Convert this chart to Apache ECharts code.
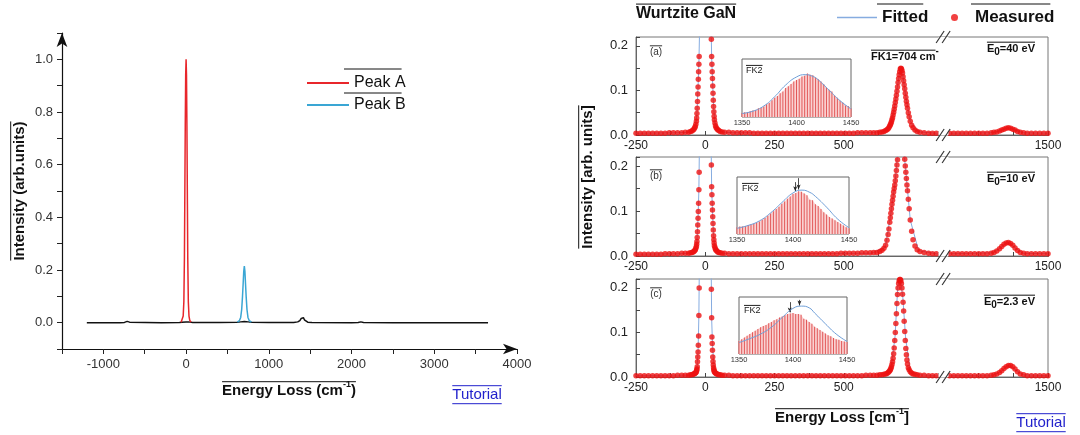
<!DOCTYPE html>
<html>
<head>
<meta charset="utf-8">
<title>Energy loss spectra - Wurtzite GaN</title>
<style>
html, body { margin: 0; padding: 0; background: #fff; }
#main { width: 1080px; height: 435px; }
</style>
<script src="https://cdn.jsdelivr.net/npm/echarts@6/dist/echarts.min.js"></script>
</head>
<body>
<div id="main"></div>
<script>
var FONT = 'Arial, "Liberation Sans", sans-serif';

// ---------- left chart: model spectrum ----------
var lineX = [-1200, -800, -745, -725, -712, -704, -696, -683, -660, -300,
             -80, -50, -30, 0, 30, 50, 80, 400, 620, 660,
             704, 750, 790, 1000, 1300, 1350, 1375, 1392, 1402, 1410,
             1418, 1430, 1445, 1470, 1520, 2000, 2080, 2100, 2112, 2125,
             2145, 2500, 3650];
var lineY = [0, 0, 0.001, 0.003, 0.005, 0.006, 0.005, 0.002, 0.001, 0,
             0.001, 0.002, 0.003, 0.003, 0.003, 0.002, 0.001, 0.001, 0.002, 0.003,
             0.004, 0.003, 0.002, 0.001, 0.001, 0.003, 0.008, 0.016, 0.021, 0.022,
             0.019, 0.011, 0.005, 0.002, 0.001, 0, 0.001, 0.002, 0.003, 0.002,
             0.001, 0, 0];
var peakAX = [-60, -45, -35, -27, -20, -16, -10, -5, 0, 5, 10, 16, 20, 27, 35, 45, 60];
var peakAY = [0.002, 0.008, 0.025, 0.08, 0.25, 0.45, 0.75, 0.94, 1.0, 0.94, 0.75, 0.45, 0.25, 0.08, 0.025, 0.008, 0.002];
var peakBX = [620, 645, 660, 672, 682, 690, 697, 704, 711, 718, 726, 736, 748, 763, 790];
var peakBY = [0.002, 0.008, 0.02, 0.05, 0.1, 0.15, 0.195, 0.215, 0.195, 0.15, 0.1, 0.05, 0.02, 0.008, 0.002];
var leftXTicks = [-1000, 0, 1000, 2000, 3000, 4000];
var leftYTicks = [0, 0.2, 0.4, 0.6, 0.8, 1.0];

// ---------- right chart: measured / fitted, three beam energies ----------
var xMeas = [-250, -235, -220, -205, -190, -175, -160, -145, -130, -115,
             -100, -85, -72,
             -60, -53, -48, -44, -41, -38, -36, -34, -32, -31, -30, -29, -28, -27, -26, -25, -24, -23, -22, -21,
             22, 23, 24, 25, 26, 27, 28, 29, 30, 31, 32, 33, 35, 37, 39, 42, 45, 49, 54, 61,
             70, 85, 100, 115, 130, 145, 160, 175, 190, 205,
             220, 235, 250, 265, 280, 295, 310, 325, 340, 355,
             370, 385, 400, 415, 430, 445, 460, 475, 490, 505,
             520, 535, 550, 565, 580, 595, 608,
             620, 630, 638, 645, 651, 656, 660, 663, 666, 668,
             670, 672, 674, 676, 678, 680, 682, 684, 686, 688,
             690, 692, 694, 696, 698, 700, 702, 704, 706, 708,
             710, 712, 714, 716, 718, 720, 722, 724, 726, 728,
             730, 733, 736, 740, 745, 750, 757, 765, 775, 790,
             806, 820, 834,
             1145, 1160, 1175, 1190, 1205, 1220, 1235, 1250, 1265, 1280,
             1295, 1305, 1315, 1325, 1333, 1341, 1349, 1357, 1365, 1373, 1381, 1390, 1400, 1412,
             1425, 1440, 1455, 1470, 1485, 1500];
var yMeasA = [0.004, 0.004, 0.004, 0.004, 0.004, 0.004, 0.004, 0.004, 0.005, 0.005,
              0.005, 0.005, 0.006,
              0.006, 0.008, 0.009, 0.011, 0.013, 0.016, 0.019, 0.024, 0.031, 0.038, 0.048, 0.060, 0.075, 0.092, 0.108, 0.125, 0.142, 0.159, 0.176, 0.221,
              0.215, 0.176, 0.159, 0.142, 0.127, 0.110, 0.094, 0.078, 0.064, 0.052, 0.042, 0.034, 0.027, 0.021, 0.017, 0.014, 0.012, 0.010, 0.008, 0.007,
              0.006, 0.006, 0.005, 0.005, 0.005, 0.005, 0.005, 0.004, 0.004, 0.004,
              0.004, 0.004, 0.004, 0.004, 0.004, 0.004, 0.004, 0.004, 0.004, 0.004,
              0.004, 0.004, 0.004, 0.004, 0.004, 0.004, 0.004, 0.004, 0.004, 0.004,
              0.004, 0.004, 0.005, 0.005, 0.005, 0.005, 0.005,
              0.005, 0.006, 0.007, 0.008, 0.010, 0.012, 0.014, 0.017, 0.020, 0.023,
              0.026, 0.030, 0.034, 0.039, 0.045, 0.051, 0.058, 0.065, 0.073, 0.081,
              0.089, 0.098, 0.108, 0.118, 0.127, 0.135, 0.142, 0.148, 0.150, 0.149,
              0.145, 0.139, 0.131, 0.122, 0.113, 0.104, 0.094, 0.085, 0.076, 0.068,
              0.060, 0.050, 0.041, 0.031, 0.022, 0.016, 0.011, 0.008, 0.006, 0.005,
              0.004, 0.004, 0.004,
              0.004, 0.004, 0.004, 0.004, 0.004, 0.004, 0.004, 0.004, 0.004, 0.004,
              0.005, 0.006, 0.007, 0.009, 0.011, 0.013, 0.015, 0.016, 0.015, 0.013, 0.011, 0.008, 0.006, 0.005,
              0.004, 0.004, 0.004, 0.004, 0.004, 0.004];
var yMeasB = [0.004, 0.004, 0.004, 0.004, 0.004, 0.004, 0.004, 0.005, 0.005, 0.005,
              0.005, 0.006, 0.006,
              0.006, 0.007, 0.008, 0.009, 0.010, 0.012, 0.014, 0.017, 0.021, 0.026, 0.032, 0.041, 0.054, 0.069, 0.084, 0.099, 0.117, 0.147, 0.186, 0.250,
              0.202, 0.154, 0.136, 0.117, 0.102, 0.087, 0.072, 0.058, 0.045, 0.036, 0.029, 0.023, 0.019, 0.015, 0.013, 0.011, 0.009, 0.008, 0.007, 0.006,
              0.006, 0.005, 0.005, 0.005, 0.005, 0.005, 0.005, 0.005, 0.005, 0.005,
              0.005, 0.005, 0.005, 0.005, 0.005, 0.005, 0.005, 0.005, 0.005, 0.005,
              0.005, 0.005, 0.005, 0.005, 0.005, 0.005, 0.005, 0.005, 0.006, 0.006,
              0.006, 0.006, 0.006, 0.007, 0.007, 0.007, 0.008,
              0.008, 0.010, 0.013, 0.017, 0.024, 0.035, 0.048, 0.060, 0.075, 0.085,
              0.095, 0.105, 0.115, 0.124, 0.133, 0.142, 0.150, 0.158, 0.167, 0.178,
              0.190, 0.202, 0.214, 0.226, 0.238, 0.250, 0.260, 0.270, 0.275, 0.275,
              0.270, 0.262, 0.252, 0.240, 0.228, 0.215, 0.200, 0.186, 0.172, 0.158,
              0.145, 0.126, 0.105, 0.080, 0.055, 0.036, 0.022, 0.014, 0.010, 0.008,
              0.006, 0.005, 0.005,
              0.005, 0.005, 0.005, 0.005, 0.005, 0.005, 0.005, 0.005, 0.005, 0.005,
              0.006, 0.008, 0.011, 0.016, 0.021, 0.026, 0.029, 0.030, 0.028, 0.024, 0.018, 0.012, 0.008, 0.006,
              0.005, 0.005, 0.005, 0.005, 0.005, 0.005];
var yMeasC = [0.003, 0.003, 0.003, 0.003, 0.003, 0.003, 0.003, 0.003, 0.003, 0.003,
              0.004, 0.004, 0.004,
              0.004, 0.005, 0.005, 0.006, 0.007, 0.008, 0.009, 0.010, 0.012, 0.015, 0.018, 0.023, 0.034, 0.045, 0.056, 0.071, 0.092, 0.138, 0.200, 0.280,
              0.197, 0.133, 0.090, 0.075, 0.060, 0.045, 0.035, 0.027, 0.021, 0.017, 0.014, 0.012, 0.010, 0.009, 0.008, 0.007, 0.006, 0.005, 0.005, 0.004,
              0.004, 0.004, 0.003, 0.003, 0.003, 0.003, 0.003, 0.003, 0.003, 0.003,
              0.003, 0.003, 0.003, 0.003, 0.003, 0.003, 0.003, 0.003, 0.003, 0.003,
              0.003, 0.003, 0.003, 0.003, 0.003, 0.003, 0.003, 0.003, 0.003, 0.003,
              0.003, 0.003, 0.003, 0.003, 0.004, 0.004, 0.004,
              0.004, 0.005, 0.005, 0.006, 0.007, 0.008, 0.010, 0.012, 0.014, 0.016,
              0.019, 0.023, 0.028, 0.034, 0.042, 0.052, 0.065, 0.082, 0.100, 0.120,
              0.142, 0.165, 0.185, 0.200, 0.210, 0.216, 0.219, 0.219, 0.216, 0.210,
              0.200, 0.186, 0.168, 0.148, 0.125, 0.102, 0.082, 0.064, 0.050, 0.038,
              0.029, 0.021, 0.016, 0.012, 0.009, 0.007, 0.006, 0.005, 0.004, 0.004,
              0.003, 0.003, 0.003,
              0.003, 0.003, 0.003, 0.003, 0.003, 0.003, 0.003, 0.003, 0.003, 0.003,
              0.004, 0.005, 0.007, 0.010, 0.014, 0.019, 0.023, 0.026, 0.026, 0.023, 0.018, 0.012, 0.007, 0.005,
              0.003, 0.003, 0.003, 0.003, 0.003, 0.003];

var xFit = [-250, -100, -60, -45, -35, -30, -26, -23, -21, -19,
            -15, -8, 0, 8, 15, 19, 21, 23, 26, 30,
            35, 45, 60, 100, 600, 650, 670, 685, 695, 704,
            713, 723, 740, 770, 834, 1145, 1300, 1330, 1355, 1380,
            1410, 1500];
var yFitA = [0.004, 0.005, 0.006, 0.010, 0.021, 0.048, 0.108, 0.159, 0.221, 0.300,
             0.500, 0.850, 1.000, 0.850, 0.500, 0.300, 0.250, 0.176, 0.127, 0.064,
             0.027, 0.012, 0.007, 0.005, 0.005, 0.010, 0.026, 0.069, 0.114, 0.148,
             0.134, 0.090, 0.031, 0.007, 0.004, 0.004, 0.005, 0.010, 0.016, 0.012,
             0.005, 0.004];
var yFitB = [0.004, 0.005, 0.006, 0.009, 0.016, 0.032, 0.084, 0.147, 0.250, 0.350,
             0.600, 0.900, 1.000, 0.900, 0.600, 0.350, 0.260, 0.154, 0.102, 0.045,
             0.019, 0.011, 0.006, 0.005, 0.006, 0.020, 0.095, 0.162, 0.232, 0.270,
             0.255, 0.195, 0.080, 0.012, 0.005, 0.005, 0.007, 0.019, 0.030, 0.019,
             0.006, 0.005];
var yFitC = [0.003, 0.004, 0.004, 0.006, 0.012, 0.018, 0.056, 0.138, 0.280, 0.400,
             0.650, 0.920, 1.000, 0.920, 0.650, 0.400, 0.280, 0.133, 0.075, 0.035,
             0.014, 0.009, 0.005, 0.004, 0.004, 0.007, 0.019, 0.090, 0.205, 0.219,
             0.180, 0.090, 0.012, 0.005, 0.003, 0.003, 0.004, 0.012, 0.026, 0.017,
             0.005, 0.003];

// insets: FK2 region, normalised
var xIn = [1350, 1352.5, 1355, 1357.5, 1360, 1362.5, 1365, 1367.5, 1370, 1372.5,
           1375, 1377.5, 1380, 1382.5, 1385, 1387.5, 1390, 1392.5, 1395, 1397.5,
           1400, 1402.5, 1405, 1407.5, 1410, 1412.5, 1415, 1417.5, 1420, 1422.5,
           1425, 1427.5, 1430, 1432.5, 1435, 1437.5, 1440, 1442.5, 1445, 1447.5,
           1450];
var yInA = [0.07, 0.08, 0.08, 0.10, 0.11, 0.12, 0.15, 0.16, 0.18, 0.22,
            0.24, 0.29, 0.33, 0.36, 0.41, 0.44, 0.50, 0.53, 0.57, 0.61,
            0.64, 0.66, 0.70, 0.71, 0.75, 0.73, 0.72, 0.68, 0.65, 0.61,
            0.57, 0.51, 0.47, 0.44, 0.37, 0.33, 0.28, 0.25, 0.20, 0.19,
            0.15];
var yInB = [0.12, 0.13, 0.13, 0.14, 0.16, 0.17, 0.18, 0.20, 0.22, 0.25,
            0.28, 0.32, 0.36, 0.40, 0.44, 0.48, 0.53, 0.57, 0.62, 0.66,
            0.70, 0.72, 0.75, 0.74, 0.71, 0.68, 0.60, 0.59, 0.52, 0.49,
            0.44, 0.38, 0.34, 0.30, 0.27, 0.24, 0.21, 0.18, 0.15, 0.12,
            0.10];
var yInC = [0.23, 0.26, 0.29, 0.32, 0.35, 0.38, 0.41, 0.44, 0.47, 0.49,
            0.51, 0.54, 0.56, 0.59, 0.61, 0.64, 0.66, 0.68, 0.70, 0.71,
            0.72, 0.70, 0.70, 0.69, 0.62, 0.60, 0.56, 0.53, 0.48, 0.45,
            0.42, 0.39, 0.36, 0.33, 0.31, 0.28, 0.26, 0.25, 0.23, 0.22,
            0.21];
var xFitIn = [1350, 1360, 1370, 1380, 1390, 1400, 1408, 1415, 1420, 1430, 1440, 1450];
var yFitInA = [0.06, 0.10, 0.19, 0.35, 0.55, 0.69, 0.73, 0.70, 0.64, 0.46, 0.28, 0.14];
var yFitInB = [0.10, 0.15, 0.23, 0.37, 0.55, 0.72, 0.77, 0.73, 0.66, 0.47, 0.26, 0.11];
var yFitInC = [0.20, 0.27, 0.35, 0.47, 0.64, 0.80, 0.84, 0.81, 0.72, 0.53, 0.35, 0.22];
// peak markers in insets: [x, from, to]
var arrowsA = [];
var arrowsB = [[1402, 0.91, 0.75], [1405, 0.98, 0.78]];
var arrowsC = [[1397, 0.91, 0.73], [1406, 0.95, 0.85]];

var panelTags = ['(a)', '(b)', '(c)'];
var beamE = ['=40 eV', '=10 eV', '=2.3 eV'];
var rightXTicks = [-250, 0, 250, 500, 750, 1500];
var rightYTicks = [0, 0.1, 0.2];
var insetXTicks = [1350, 1400, 1450];
var breakStart = 840, breakEnd = 1140;

function zip(xs, ys) {
    return xs.map(function (x, i) { return [x, ys[i]]; });
}

var chart = echarts.init(document.getElementById('main'));

var grids = [
    { left: 62, top: 33, width: 455, height: 316 },
    { left: 636, top: 37, width: 412, height: 98 },
    { left: 636, top: 157, width: 412, height: 99 },
    { left: 636, top: 279, width: 412, height: 98 },
    { left: 742, top: 59, width: 109, height: 58 },
    { left: 737, top: 177, width: 112, height: 57 },
    { left: 739, top: 297, width: 108, height: 57 }
];
grids.forEach(function (g, i) {
    if (i >= 1) {
        g.show = true;
        g.borderColor = i >= 4 ? '#666' : '#777';
        g.borderWidth = 1;
        g.backgroundColor = i >= 4 ? '#fff' : 'transparent';
    }
});

var xAxes = [{
    gridIndex: 0, type: 'value', min: -1500, max: 4000, interval: 500,
    axisLine: { onZero: false, symbol: ['none', 'arrow'], symbolSize: [8, 14], lineStyle: { color: '#111', width: 1.2 } },
    axisTick: { length: 5, lineStyle: { color: '#222' } },
    axisLabel: {
        margin: 9, fontSize: 13, color: '#333', fontFamily: FONT,
        formatter: function (v) { return leftXTicks.indexOf(v) >= 0 ? String(v) : ''; }
    },
    splitLine: { show: false }
}];
var yAxes = [{
    gridIndex: 0, type: 'value', min: -0.1, max: 1.1, interval: 0.1,
    axisLine: { show: true, onZero: false, symbol: ['none', 'arrow'], symbolSize: [8, 14], lineStyle: { color: '#111', width: 1.2 } },
    axisTick: { show: true, length: 5, lineStyle: { color: '#222' } },
    axisLabel: {
        margin: 9, fontSize: 13, color: '#333', fontFamily: FONT,
        formatter: function (v) {
            var r = Math.round(v * 10) / 10;
            return leftYTicks.indexOf(r) >= 0 ? r.toFixed(1) : '';
        }
    },
    splitLine: { show: false }
}];

[1, 2, 3].forEach(function (g) {
    xAxes.push({
        gridIndex: g, type: 'value', min: -250, max: 1500, interval: 125,
        breaks: [{ start: breakStart, end: breakEnd, gap: '2.5%' }],
        breakArea: {
            show: true, expandOnClick: false,
            zigzagAmplitude: 0,
            itemStyle: { color: '#fff', borderColor: '#fff', borderWidth: 0, opacity: 1 }
        },
        axisLine: { onZero: false, lineStyle: { color: '#666' } },
        axisTick: { inside: true, length: 4, lineStyle: { color: '#444' } },
        axisLabel: {
            margin: 5, fontSize: 12, color: '#222', fontFamily: FONT,
            formatter: function (v) { return rightXTicks.indexOf(v) >= 0 ? String(v) : ''; }
        },
        splitLine: { show: false }
    });
    yAxes.push({
        gridIndex: g, type: 'value', min: 0, max: 0.22, interval: 0.05,
        axisLine: { show: true, onZero: false, lineStyle: { color: '#666' } },
        axisTick: { show: true, inside: true, length: 4, lineStyle: { color: '#444' } },
        axisLabel: {
            margin: 8, fontSize: 13, color: '#222', fontFamily: FONT,
            formatter: function (v) {
                var r = Math.round(v * 100) / 100;
                return rightYTicks.indexOf(r) >= 0 ? r.toFixed(1) : '';
            }
        },
        splitLine: { show: false }
    });
});
[4, 5, 6].forEach(function (g) {
    xAxes.push({
        gridIndex: g, type: 'value', min: 1350, max: 1450, interval: 50,
        axisLine: { show: false },
        axisTick: { show: false },
        axisLabel: {
            margin: 2, fontSize: 7.5, color: '#333', fontFamily: FONT,
            formatter: function (v) { return insetXTicks.indexOf(v) >= 0 ? String(v) : ''; }
        },
        splitLine: { show: false }
    });
    yAxes.push({
        gridIndex: g, type: 'value', min: 0, max: 1,
        axisLine: { show: false }, axisTick: { show: false },
        axisLabel: { show: false }, splitLine: { show: false }
    });
});

var series = [
    { name: 'base', type: 'line', xAxisIndex: 0, yAxisIndex: 0, data: zip(lineX, lineY),
      symbol: 'none', lineStyle: { color: '#111', width: 1.5 }, color: '#111' },
    { name: 'Peak A', type: 'line', xAxisIndex: 0, yAxisIndex: 0, data: zip(peakAX, peakAY),
      symbol: 'none', lineStyle: { color: '#e8262b', width: 1.5 }, color: '#e8262b' },
    { name: 'Peak B', type: 'line', xAxisIndex: 0, yAxisIndex: 0, data: zip(peakBX, peakBY),
      symbol: 'none', lineStyle: { color: '#3aa6d4', width: 1.5 }, color: '#3aa6d4' }
];

var measSets = [yMeasA, yMeasB, yMeasC];
var fitSets = [yFitA, yFitB, yFitC];
var inSets = [yInA, yInB, yInC];
var fitInSets = [yFitInA, yFitInB, yFitInC];
var arrowSets = [arrowsA, arrowsB, arrowsC];

measSets.forEach(function (ys, i) {
    series.push({
        name: 'Fitted', type: 'line', xAxisIndex: i + 1, yAxisIndex: i + 1,
        data: zip(xFit, fitSets[i]), symbol: 'none',
        lineStyle: { color: '#86ace0', width: 1 }, color: '#86ace0', z: 2
    });
    series.push({
        name: 'Measured', type: 'scatter', xAxisIndex: i + 1, yAxisIndex: i + 1,
        data: zip(xMeas, ys), symbolSize: 5.5,
        itemStyle: { color: '#ee1111' }, z: 3
    });
});
inSets.forEach(function (ys, i) {
    var g = i + 4;
    series.push({
        name: 'fk2area', type: 'line', xAxisIndex: g, yAxisIndex: g,
        data: zip(xIn, ys), symbol: 'none',
        lineStyle: { width: 0 }, areaStyle: { color: '#fad2d2', opacity: 1 }, z: 3
    });
    series.push({
        name: 'fk2bars', type: 'bar', xAxisIndex: g, yAxisIndex: g,
        data: zip(xIn, ys), barWidth: 0.8,
        itemStyle: { color: '#e25858' }, z: 4
    });
    series.push({
        name: 'fk2fit', type: 'line', xAxisIndex: g, yAxisIndex: g,
        data: zip(xFitIn, fitInSets[i]), symbol: 'none', smooth: true,
        lineStyle: { color: '#6f9fd8', width: 1 }, z: 5,
        markLine: {
            silent: true, symbol: ['none', 'arrow'], symbolSize: [3, 5],
            lineStyle: { color: '#222', width: 0.8, type: 'solid' },
            label: { show: false },
            data: arrowSets[i].map(function (a) {
                return [{ coord: [a[0], a[1]] }, { coord: [a[0], a[2]] }];
            })
        }
    });
});

chart.setOption({
    animation: false,
    backgroundColor: '#fff',
    textStyle: { fontFamily: FONT },
    grid: grids,
    xAxis: xAxes,
    yAxis: yAxes,
    legend: [
        { data: [{ name: 'Peak A', icon: 'rect' }, { name: 'Peak B', icon: 'rect' }],
          orient: 'vertical', left: 302, top: 70,
          itemWidth: 42, itemHeight: 2, itemGap: 6, selectedMode: false,
          textStyle: { fontSize: 16, color: '#111', fontFamily: FONT } },
        { data: [{ name: 'Fitted', icon: 'rect' }], left: 832, top: 4, itemWidth: 40, itemHeight: 1.5, selectedMode: false,
          textStyle: { fontSize: 17, fontWeight: 'bold', color: '#111', fontFamily: FONT } },
        { data: [{ name: 'Measured', icon: 'circle' }], left: 946, top: 4, itemWidth: 7, itemHeight: 7, selectedMode: false,
          textStyle: { fontSize: 17, fontWeight: 'bold', color: '#111', fontFamily: FONT, padding: [0, 0, 0, 12] } }
    ],
    series: series
});

// ---------- text with overlines (graphic) ----------
var ctx2d = document.createElement('canvas').getContext('2d');
function fontOf(size, bold) { return (bold ? 'bold ' : '') + size + 'px ' + FONT; }
function measure(str, size, bold) { ctx2d.font = fontOf(size, bold); return ctx2d.measureText(str).width; }
function textBlock(x, y, parts, opt) {
    opt = opt || {};
    var color = opt.color || '#111';
    var widths = parts.map(function (p) { return measure(p.t, p.s, opt.bold); });
    var total = widths.reduce(function (a, b) { return a + b; }, 0);
    var x0 = opt.align === 'center' ? -total / 2 : (opt.align === 'right' ? -total : 0);
    var kids = [], cx = x0;
    parts.forEach(function (p, i) {
        kids.push({ type: 'text', x: cx, y: p.dy || 0,
            style: { text: p.t, fontSize: p.s, fontWeight: opt.bold ? 'bold' : 'normal', fontFamily: FONT,
                     fill: color, align: 'left', verticalAlign: 'middle' } });
        cx += widths[i];
    });
    var s = parts[0].s;
    var overW = opt.overFirst ? widths[0] : total;
    if (opt.over !== false) {
        kids.push({ type: 'line', shape: { x1: x0, y1: -s * 0.62, x2: x0 + overW, y2: -s * 0.62 },
                    style: { stroke: color, lineWidth: 1 } });
    }
    if (opt.under) {
        kids.push({ type: 'line', shape: { x1: x0, y1: s * 0.58, x2: x0 + total, y2: s * 0.58 },
                    style: { stroke: color, lineWidth: 1 } });
    }
    return { type: 'group', x: x, y: y, rotation: opt.rot || 0, silent: true, z: 100, children: kids };
}
function overline(x, y, w) {
    return { type: 'line', silent: true, z: 100, shape: { x1: x, y1: y, x2: x + w, y2: y }, style: { stroke: '#111', lineWidth: 1 } };
}

var gfx = [];
// left chart texts
gfx.push(textBlock(20, 191, [{ t: 'Intensity (arb.units)', s: 15 }], { bold: true, align: 'center', rot: Math.PI / 2 }));
gfx.push(textBlock(289, 391, [{ t: 'Energy Loss (cm', s: 15 }, { t: '-1', s: 9, dy: -6 }, { t: ')', s: 15 }], { bold: true, align: 'center' }));
gfx.push(textBlock(477, 395, [{ t: 'Tutorial', s: 15 }], { align: 'center', color: '#2222cc', under: true }));
gfx.push(overline(344, 69, measure('Peak A', 16) + 6));
gfx.push(overline(344, 93, measure('Peak B', 16) + 6));

// right chart texts
gfx.push(textBlock(636, 14, [{ t: 'Wurtzite GaN', s: 16 }], { bold: true }));
gfx.push(overline(877, 4, measure('Fitted', 17, true)));
gfx.push(overline(971, 4, measure('Measured', 17, true)));
gfx.push(textBlock(588, 177, [{ t: 'Intensity [arb. units]', s: 15 }], { bold: true, align: 'center', rot: Math.PI / 2 }));
gfx.push(textBlock(842, 418, [{ t: 'Energy Loss [cm', s: 15 }, { t: '-1', s: 9, dy: -6 }, { t: ']', s: 15 }], { bold: true, align: 'center' }));
gfx.push(textBlock(1041, 423, [{ t: 'Tutorial', s: 15 }], { align: 'center', color: '#2222cc', under: true }));
gfx.push(textBlock(871, 57, [{ t: 'FK1=704 cm', s: 11 }, { t: '-1', s: 11, dy: -6 }], { bold: true, overFirst: true }));

var tagY = [52, 176, 294];
var eY = [49, 179, 302];
var fkY = [71, 189, 311];
var fkX = [746, 742, 744];
panelTags.forEach(function (t, i) {
    gfx.push(textBlock(656, tagY[i], [{ t: t, s: 10 }], { align: 'center', color: '#333' }));
    gfx.push(textBlock(1035, eY[i], [{ t: 'E', s: 11 }, { t: '0', s: 10, dy: 3 }, { t: beamE[i], s: 11 }], { bold: true, align: 'right' }));
    gfx.push(textBlock(fkX[i], fkY[i], [{ t: 'FK2', s: 9 }], { color: '#222' }));
});

// axis-break marks "//" on top and bottom edges of each panel
var p1 = chart.convertToPixel({ xAxisIndex: 1 }, breakStart);
var p2 = chart.convertToPixel({ xAxisIndex: 1 }, breakEnd);
var bx = (isFinite(p1) && isFinite(p2)) ? (p1 + p2) / 2 : 943;
[1, 2, 3].forEach(function (g) {
    [grids[g].top, grids[g].top + grids[g].height].forEach(function (yy) {
        [-3, 3].forEach(function (dx) {
            gfx.push({ type: 'line', silent: true, z: 100,
                shape: { x1: bx + dx - 4, y1: yy + 6, x2: bx + dx + 4, y2: yy - 6 },
                style: { stroke: '#333', lineWidth: 1.2 } });
        });
    });
});

chart.setOption({ graphic: gfx });
</script>
</body>
</html>
